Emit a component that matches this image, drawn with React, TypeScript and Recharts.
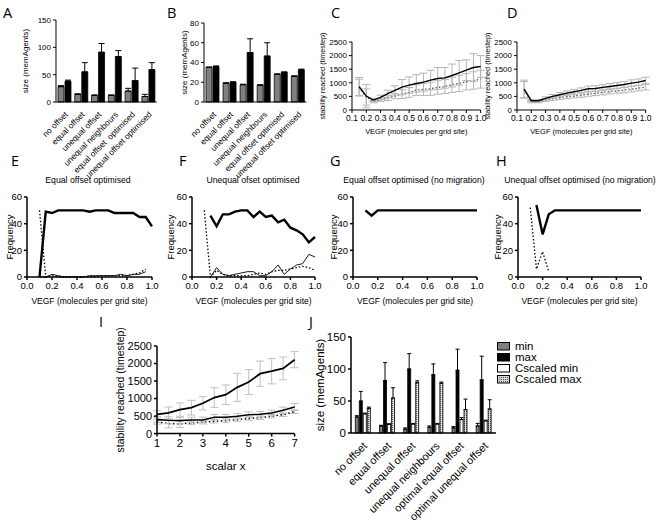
import React from 'react';
import { ComposedChart, Bar, Line, XAxis, YAxis, ErrorBar, Legend } from 'recharts';

const FONT = '"Liberation Sans", Arial, Helvetica, sans-serif';

// ---------- Panel A ----------
const catsA = ['no offset', 'equal offset', 'unequal offset', 'unequal neighbours', 'equal offset  optimised', 'unequal offset optimised'];
const aMin = [28, 14, 12, 12, 20, 10];
const aMinErr = [2, 1, 1, 1, 5, 4];
const aMax = [38, 55, 91, 83, 39, 59];
const aMaxErr = [2, 17, 16, 11, 23, 13];
const aTicks = [0, 50, 100, 150];

// ---------- Panel B ----------
const catsB = ['no offset', 'equal offset', 'unequal offset', 'unequal neighbours', 'equal offset optimised', 'unequal offset optimised'];
const bMin = [35, 19, 17.5, 17, 28, 26];
const bMinErr = [0.5, 0.5, 0.5, 0.5, 0.5, 0.5];
const bMax = [36, 20, 50, 46.5, 30, 32.5];
const bMaxErr = [0.5, 0.5, 14, 13.5, 0.5, 0.8];
const bTicks = [0, 20, 40, 60, 80];

// ---------- Panels C, D ----------
const vegfCD = [0.15, 0.2, 0.25, 0.3, 0.35, 0.4, 0.45, 0.5, 0.55, 0.6, 0.65, 0.7, 0.75, 0.8, 0.85, 0.9, 0.95, 1.0];
const cSolid = [854, 512, 366, 463, 598, 720, 841, 915, 976, 1024, 1098, 1159, 1183, 1268, 1366, 1463, 1561, 1598];
const cSolidErr = [340, 430, 60, 80, 130, 170, 280, 300, 320, 330, 360, 400, 380, 420, 450, 380, 510, 400];
const cDotted = [830, 476, 317, 378, 439, 512, 585, 646, 730, 756, 780, 830, 866, 927, 976, 1037, 1085, 1134];
const cDottedErr = [300, 300, 50, 60, 90, 100, 160, 180, 200, 220, 240, 250, 260, 280, 300, 300, 320, 330];
const dSolid = [768, 341, 341, 427, 500, 561, 622, 670, 720, 780, 793, 830, 866, 902, 939, 988, 1024, 1085];
const dSolidErr = [330, 40, 40, 60, 70, 80, 80, 90, 90, 100, 100, 100, 110, 110, 110, 120, 120, 120];
const dDotted = [744, 305, 305, 366, 415, 451, 488, 512, 549, 585, 610, 646, 683, 707, 732, 768, 805, 841];
const dDottedErr = [300, 40, 40, 50, 60, 60, 70, 70, 80, 80, 80, 90, 90, 90, 100, 100, 100, 100];
const cdXTicks = [0.1, 0.2, 0.3, 0.4, 0.5, 0.6, 0.7, 0.8, 0.9, 1.0];
const cdYTicks = [0, 500, 1000, 1500, 2000, 2500];

// ---------- Panels E-H ----------
const vegfEH = [0.1, 0.15, 0.2, 0.25, 0.3, 0.35, 0.4, 0.45, 0.5, 0.55, 0.6, 0.65, 0.7, 0.75, 0.8, 0.85, 0.9, 0.95, 1.0];
const eThick = [0, 49, 48, 50, 50, 50, 50, 50, 49, 50, 50, 50, 48, 48, 48, 48, 45, 45, 38];
const eThin = [0, 0, 2, 1, 0, 0, 0, 0, 1, 1, 1, 1, 1, 2, 1, 2, 2, 4, null];
const eDotted = [50, 0, 1, 0, 0, 0, 0, 0, 0, 0, 1, 1, 1, 1, 1, 2, 3, 6, null];
const fThick = [null, 46, 38, 47, 47, 49, 50, 50, 45, 49, 45, 46, 41, 43, 37, 35, 32, 26, 30];
const fThin = [null, 0, 7, 2, 1, 2, 3, 4, 4, 1, 1, 4, 9, 2, 6, 9, 10, 17, 15];
const fDotted = [50, 0, 5, 2, 1, 1, 1, 1, 2, 3, 2, 4, 5, 5, 6, 7, 8, 7, 5];
const gThick = [50, 46, 50, 50, 50, 50, 50, 50, 50, 50, 50, 50, 50, 50, 50, 50, 50, 50, 50];
const hThick = [null, 54, 32, 47, 50, 50, 50, 50, 50, 50, 50, 50, 50, 50, 50, 50, 50, 50, 50];
const hDotted = [52, 6, 19, 4, null, null, null, null, null, null, null, null, null, null, null, null, null, null, null];
const ehXTicks = [0, 0.2, 0.4, 0.6, 0.8, 1.0];
const ehYTicks = [0, 20, 40, 60];

// ---------- Panel I ----------
const scalarX = [1, 1.5, 2, 2.5, 3, 3.5, 4, 4.5, 5, 5.5, 6, 6.5, 7];
const iUpper = [550, 590, 685, 740, 865, 1030, 1110, 1320, 1470, 1710, 1780, 1860, 2110];
const iUpperErr = [100, 170, 190, 210, 190, 280, 280, 400, 355, 360, 360, 325, 230];
const iMid = [400, 380, 370, 390, 390, 465, 465, 495, 540, 550, 590, 665, 760];
const iMidErr = [80, 100, 90, 80, 80, 80, 80, 80, 80, 80, 80, 90, 100];
const iDot = [330, 285, 275, 305, 325, 350, 370, 400, 430, 455, 495, 540, 625];
const iDotErr = [60, 120, 100, 50, 50, 50, 50, 50, 50, 50, 50, 50, 50];
const iXTicks = [1, 2, 3, 4, 5, 6, 7];
const iYTicks = [0, 500, 1000, 1500, 2000, 2500];

// ---------- Panel J ----------
const catsJ = ['no offset', 'equal offset', 'unequal offset', 'unequal neighbours', 'optimal equal offset', 'optimal unequal offset'];
const jMin = [25, 11, 6, 9, 8, 11];
const jMinErr = [2, 1, 2, 2, 2, 4];
const jMax = [50, 82, 100, 91, 98, 83];
const jMaxErr = [15, 28, 24, 17, 33, 37];
const jCMin = [30, 13.5, 14, 14, 21, 19];
const jCMinErr = [1, 1, 1, 1, 3, 1];
const jCMax = [38.5, 54.7, 78.6, 77.6, 36.5, 37.5];
const jCMaxErr = [2, 16, 3, 2, 16.5, 14.5];
const jTicks = [0, 50, 100, 150];
const jLegend = ['min', 'max', 'Cscaled min', 'Cscaled max'];

// ---------- data tables ----------
const dataA = catsA.map((c, i) => ({ c, min: aMin[i], minE: [0, aMinErr[i]], max: aMax[i], maxE: [0, aMaxErr[i]] }));
const dataB = catsB.map((c, i) => ({ c, min: bMin[i], minE: [0, bMinErr[i]], max: bMax[i], maxE: [0, bMaxErr[i]] }));
const dataC = vegfCD.map((x, i) => ({ x, s: cSolid[i], sE: cSolidErr[i], d: cDotted[i], dE: cDottedErr[i] }));
const dataD = vegfCD.map((x, i) => ({ x, s: dSolid[i], sE: dSolidErr[i], d: dDotted[i], dE: dDottedErr[i] }));
const dataE = vegfEH.map((x, i) => ({ x, thick: eThick[i], thin: eThin[i], dot: eDotted[i] }));
const dataF = vegfEH.map((x, i) => ({ x, thick: fThick[i], thin: fThin[i], dot: fDotted[i] }));
const dataG = vegfEH.map((x, i) => ({ x, thick: gThick[i] }));
const dataH = vegfEH.map((x, i) => ({ x, thick: hThick[i], dot: hDotted[i] }));
const dataI = scalarX.map((x, i) => ({ x, u: iUpper[i], uE: iUpperErr[i], m: iMid[i], mE: iMidErr[i], d: iDot[i], dE: iDotErr[i] }));
const dataJ = catsJ.map((c, i) => ({
  c,
  min: jMin[i], minE: [0, jMinErr[i]],
  max: jMax[i], maxE: [0, jMaxErr[i]],
  cmin: jCMin[i], cminE: [0, jCMinErr[i]],
  cmax: jCMax[i], cmaxE: [0, jCMaxErr[i]],
}));

// ---------- layout helpers ----------
type Frame = { x0: number; x1: number; y0: number; y1: number; yw: number; xh: number; mt?: number; mr?: number; pad?: number };
const PAD = 6; // extra room under x-axis labels so nothing is clipped

function dims(f: Frame) {
  const mt = f.mt ?? 8;
  const mr = f.mr ?? 10;
  const pad = f.pad ?? PAD;
  return {
    left: f.x0 - f.yw,
    top: f.y0 - mt,
    width: f.yw + (f.x1 - f.x0) + mr,
    height: mt + (f.y1 - f.y0) + f.xh + pad,
    margin: { top: mt, right: mr, left: 0, bottom: 0 },
  };
}

const yLab = (value: string, cx: number, f: Frame, fontSize: number) => ({
  value,
  angle: -90,
  position: 'insideLeft' as const,
  offset: cx - (f.x0 - f.yw),
  style: { textAnchor: 'middle', fontSize, fill: '#000', fontFamily: FONT },
});

const xLab = (value: string, fontSize: number) => ({
  value,
  position: 'insideBottom' as const,
  offset: PAD,
  style: { fontSize, fill: '#000', fontFamily: FONT },
});

const axisCommon = (w: number) => ({
  axisLine: { stroke: '#000', strokeWidth: w },
  tickLine: { stroke: '#000', strokeWidth: w },
  tickSize: 3,
});

const tickStyle = (fontSize: number) => ({ fontSize, fill: '#000', fontFamily: FONT });

function makeRotTick(fontSize: number, dx: number, dy: number) {
  return function RotTick(props: any) {
    const { x, y, payload } = props;
    const tx = x + dx;
    const ty = y + dy;
    return (
      <text x={tx} y={ty} dy="0.35em" textAnchor="end" transform={`rotate(-45, ${tx}, ${ty})`}
        fontSize={fontSize} fontFamily={FONT} fill="#000" style={{ whiteSpace: 'pre' }}>
        {payload.value}
      </text>
    );
  };
}
const RotTickAB = makeRotTick(8.3, 2, 3);
const RotTickJ = makeRotTick(10.8, 2, 3);

// ---------- bar panels A/B ----------
function BarPanel({ f, data, ticks, max, label, labelX }: any) {
  const d = dims(f);
  return (
    <div style={{ position: 'absolute', left: d.left, top: d.top }}>
      <ComposedChart width={d.width} height={d.height} margin={d.margin} data={data} barSize={6} barGap={1}>
        <XAxis dataKey="c" type="category" interval={0} height={f.xh}
          tick={<RotTickAB />} axisLine={{ stroke: '#000', strokeWidth: 1 }} tickLine={false} />
        <YAxis type="number" domain={[0, max]} ticks={ticks} width={f.yw} tick={tickStyle(8)} {...axisCommon(1)}
          label={yLab(label, labelX, f, 8)} />
        <Bar dataKey="min" fill="#808080" stroke="#000" strokeWidth={0.8} isAnimationActive={false}>
          <ErrorBar dataKey="minE" direction="y" width={3} stroke="#000" strokeWidth={1} />
        </Bar>
        <Bar dataKey="max" fill="#000" stroke="#000" strokeWidth={0.8} isAnimationActive={false}>
          <ErrorBar dataKey="maxE" direction="y" width={3} stroke="#000" strokeWidth={1} />
        </Bar>
      </ComposedChart>
    </div>
  );
}

// ---------- line panels C/D ----------
function StabilityPanel({ f, data, labelX }: any) {
  const d = dims(f);
  return (
    <div style={{ position: 'absolute', left: d.left, top: d.top }}>
      <ComposedChart width={d.width} height={d.height} margin={d.margin} data={data}>
        <XAxis dataKey="x" type="number" domain={[0.1, 1.0]} ticks={cdXTicks} interval={0} height={f.xh + PAD}
          tickFormatter={(v: number) => v.toFixed(1)} tick={tickStyle(8.5)} {...axisCommon(1)}
          label={xLab('VEGF (molecules per grid site)', 7.5)} />
        <YAxis type="number" domain={[0, 2500]} ticks={cdYTicks} interval={0} width={f.yw} tick={tickStyle(8)} {...axisCommon(1)}
          label={yLab('stability reached (timestep)', labelX, f, 7.3)} />
        <Line dataKey="d" stroke="#555" strokeWidth={1.3} strokeDasharray="1.5 2" dot={false} isAnimationActive={false}>
          <ErrorBar dataKey="dE" direction="y" width={4} stroke="#b5b5b5" strokeWidth={1} />
        </Line>
        <Line dataKey="s" stroke="#000" strokeWidth={1.4} dot={false} isAnimationActive={false}>
          <ErrorBar dataKey="sE" direction="y" width={4} stroke="#b5b5b5" strokeWidth={1} />
        </Line>
      </ComposedChart>
    </div>
  );
}

// ---------- frequency panels E-H ----------
function FreqPanel({ f, data, labelX, hasThin, hasDot }: any) {
  const d = dims(f);
  return (
    <div style={{ position: 'absolute', left: d.left, top: d.top }}>
      <ComposedChart width={d.width} height={d.height} margin={d.margin} data={data}>
        <XAxis dataKey="x" type="number" domain={[0, 1]} ticks={ehXTicks} interval={0} height={f.xh + PAD}
          tickFormatter={(v: number) => v.toFixed(1)} tick={tickStyle(9.5)} {...axisCommon(1.5)}
          label={xLab('VEGF (molecules per grid site)', 8.5)} />
        <YAxis type="number" domain={[0, 60]} ticks={ehYTicks} interval={0} width={f.yw} tick={tickStyle(9.5)} {...axisCommon(1.5)}
          label={yLab('Frequency', labelX, f, 9.5)} />
        {hasDot && <Line dataKey="dot" stroke="#000" strokeWidth={1.3} strokeDasharray="1.5 2" dot={false} isAnimationActive={false} />}
        {hasThin && <Line dataKey="thin" stroke="#000" strokeWidth={0.9} dot={false} isAnimationActive={false} />}
        <Line dataKey="thick" stroke="#000" strokeWidth={2.4} dot={false} isAnimationActive={false} />
      </ComposedChart>
    </div>
  );
}

// ---------- panel I ----------
function PanelI({ f }: any) {
  const d = dims(f);
  return (
    <div style={{ position: 'absolute', left: d.left, top: d.top }}>
      <ComposedChart width={d.width} height={d.height} margin={d.margin} data={dataI}>
        <XAxis dataKey="x" type="number" domain={[1, 7]} ticks={iXTicks} interval={0} height={f.xh + PAD}
          tick={tickStyle(11.5)} {...axisCommon(1.5)} label={xLab('scalar x', 11.5)} />
        <YAxis type="number" domain={[0, 2500]} ticks={iYTicks} interval={0} width={f.yw} tick={tickStyle(11)} {...axisCommon(1.5)}
          label={yLab('stability reached (timestep)', 120, f, 10.5)} />
        <Line dataKey="d" stroke="#000" strokeWidth={1.5} strokeDasharray="1.5 2.5" dot={false} isAnimationActive={false}>
          <ErrorBar dataKey="dE" direction="y" width={4} stroke="#c0c0c0" strokeWidth={1} />
        </Line>
        <Line dataKey="m" stroke="#000" strokeWidth={1.6} dot={false} isAnimationActive={false}>
          <ErrorBar dataKey="mE" direction="y" width={4} stroke="#c0c0c0" strokeWidth={1} />
        </Line>
        <Line dataKey="u" stroke="#000" strokeWidth={1.8} dot={false} isAnimationActive={false}>
          <ErrorBar dataKey="uE" direction="y" width={4} stroke="#c0c0c0" strokeWidth={1} />
        </Line>
      </ComposedChart>
    </div>
  );
}

// ---------- panel J ----------
const jFills = ['#808080', '#000', '#fff', 'url(#hatchJ)'];

function LegendJ() {
  return (
    <div style={{ fontFamily: FONT, fontSize: 11.5, lineHeight: '11px', color: '#000' }}>
      {jLegend.map((name, i) => (
        <div key={name} style={{ display: 'flex', alignItems: 'center', height: 11 }}>
          <svg width={14} height={9} style={{ marginRight: 4 }}>
            <defs>
              <pattern id={'hatchL' + i} width={2} height={2} patternUnits="userSpaceOnUse">
                <rect width={2} height={2} fill="#d8d8d8" />
                <rect width={1} height={1} fill="#555" />
              </pattern>
            </defs>
            <rect x={0.5} y={0.5} width={12} height={7.5} stroke="#000" strokeWidth={1}
              fill={i === 3 ? 'url(#hatchL3)' : jFills[i]} />
          </svg>
          <span>{name}</span>
        </div>
      ))}
    </div>
  );
}

function PanelJ({ f }: any) {
  const d = dims(f);
  return (
    <div style={{ position: 'absolute', left: d.left, top: d.top }}>
      <ComposedChart width={d.width} height={d.height} margin={d.margin} data={dataJ} barCategoryGap="18%" barGap={1}>
        <defs>
          <pattern id="hatchJ" width={2} height={2} patternUnits="userSpaceOnUse">
            <rect width={2} height={2} fill="#d8d8d8" />
            <rect width={1} height={1} fill="#555" />
          </pattern>
        </defs>
        <XAxis dataKey="c" type="category" interval={0} height={f.xh}
          tick={<RotTickJ />} axisLine={{ stroke: '#000', strokeWidth: 1.5 }} tickLine={false} />
        <YAxis type="number" domain={[0, 150]} ticks={jTicks} interval={0} width={f.yw} tick={tickStyle(11.5)} {...axisCommon(1.5)}
          label={yLab('size (memAgents)', 320, f, 11.5)} />
        <Bar dataKey="min" fill={jFills[0]} stroke="#000" strokeWidth={0.8} isAnimationActive={false}>
          <ErrorBar dataKey="minE" direction="y" width={2} stroke="#000" strokeWidth={1} />
        </Bar>
        <Bar dataKey="max" fill={jFills[1]} stroke="#000" strokeWidth={0.8} isAnimationActive={false}>
          <ErrorBar dataKey="maxE" direction="y" width={2} stroke="#000" strokeWidth={1} />
        </Bar>
        <Bar dataKey="cmin" fill={jFills[2]} stroke="#000" strokeWidth={0.8} isAnimationActive={false}>
          <ErrorBar dataKey="cminE" direction="y" width={2} stroke="#000" strokeWidth={1} />
        </Bar>
        <Bar dataKey="cmax" fill={jFills[3]} stroke="#000" strokeWidth={0.8} isAnimationActive={false}>
          <ErrorBar dataKey="cmaxE" direction="y" width={2} stroke="#000" strokeWidth={1} />
        </Bar>
        <Legend verticalAlign="middle" align="center" layout="horizontal"
          wrapperStyle={{ left: 497 - d.left, top: 341 - d.top, width: 150 }}
          content={() => <LegendJ />} />
      </ComposedChart>
    </div>
  );
}

// ---------- frames ----------
const fA: Frame = { x0: 56, x1: 156.7, y0: 20, y1: 96, yw: 40, xh: 80, mr: 6 };
const fB: Frame = { x0: 204.3, x1: 306.7, y0: 22.7, y1: 95.7, yw: 40, xh: 80, mr: 6 };
const fC: Frame = { x0: 351.7, x1: 480.3, y0: 42, y1: 110, yw: 40, xh: 24, mt: 22 };
const fD: Frame = { x0: 516.7, x1: 645.3, y0: 42, y1: 110, yw: 40, xh: 24, mt: 22 };
const fE: Frame = { x0: 27, x1: 152, y0: 197, y1: 277, yw: 27, xh: 27 };
const fF: Frame = { x0: 192, x1: 315, y0: 197, y1: 277, yw: 32, xh: 27 };
const fG: Frame = { x0: 353, x1: 477, y0: 197, y1: 277, yw: 32, xh: 27 };
const fH: Frame = { x0: 518, x1: 641, y0: 197, y1: 277, yw: 32, xh: 27 };
const fI: Frame = { x0: 156.7, x1: 294.3, y0: 345.7, y1: 433.3, yw: 60, xh: 36, mt: 30 };
const fJ: Frame = { x0: 350.7, x1: 495.7, y0: 337.3, y1: 433.3, yw: 45, xh: 92, mr: 160, pad: 0 };

const panelLetters = [
  { t: 'A', x: 3, y: 18 }, { t: 'B', x: 167, y: 18 }, { t: 'C', x: 331, y: 18 }, { t: 'D', x: 507, y: 18 },
  { t: 'E', x: 11, y: 166 }, { t: 'F', x: 179, y: 166 }, { t: 'G', x: 330, y: 166 }, { t: 'H', x: 496, y: 166 },
  { t: 'I', x: 99, y: 327 }, { t: 'J', x: 309, y: 327 },
];

const titles = [
  { t: 'Equal offset optimised', x: 88 },
  { t: 'Unequal ofset optimised', x: 253 },
  { t: 'Equal offset optimised (no migration)', x: 414 },
  { t: 'Unequal offset optimised (no migration)', x: 580 },
];

export default function App() {
  return (
    <div style={{ position: 'fixed', left: 0, top: 0, width: 661, height: 530, background: '#fff', overflow: 'hidden', fontFamily: FONT }}>
      <BarPanel f={fA} data={dataA} ticks={aTicks} max={150} label="size (memAgents)" labelX={25} />
      <BarPanel f={fB} data={dataB} ticks={bTicks} max={80} label="size (memAgents)" labelX={184} />
      <StabilityPanel f={fC} data={dataC} labelX={322} />
      <StabilityPanel f={fD} data={dataD} labelX={487} />
      <FreqPanel f={fE} data={dataE} labelX={10} hasThin hasDot />
      <FreqPanel f={fF} data={dataF} labelX={171} hasThin hasDot />
      <FreqPanel f={fG} data={dataG} labelX={334} />
      <FreqPanel f={fH} data={dataH} labelX={498} hasDot />
      <PanelI f={fI} />
      <PanelJ f={fJ} />
      <svg width={661} height={530} style={{ position: 'absolute', left: 0, top: 0, pointerEvents: 'none' }}>
        {panelLetters.map((p) => (
          <text key={p.t} x={p.x} y={p.y} fontSize={14.5} fontFamily='"Open Sans", "Liberation Sans", sans-serif' fill="#000">{p.t}</text>
        ))}
        {titles.map((p) => (
          <text key={p.t} x={p.x} y={183} fontSize={8.7} textAnchor="middle" fontFamily={FONT} fill="#000">{p.t}</text>
        ))}
      </svg>
    </div>
  );
}
